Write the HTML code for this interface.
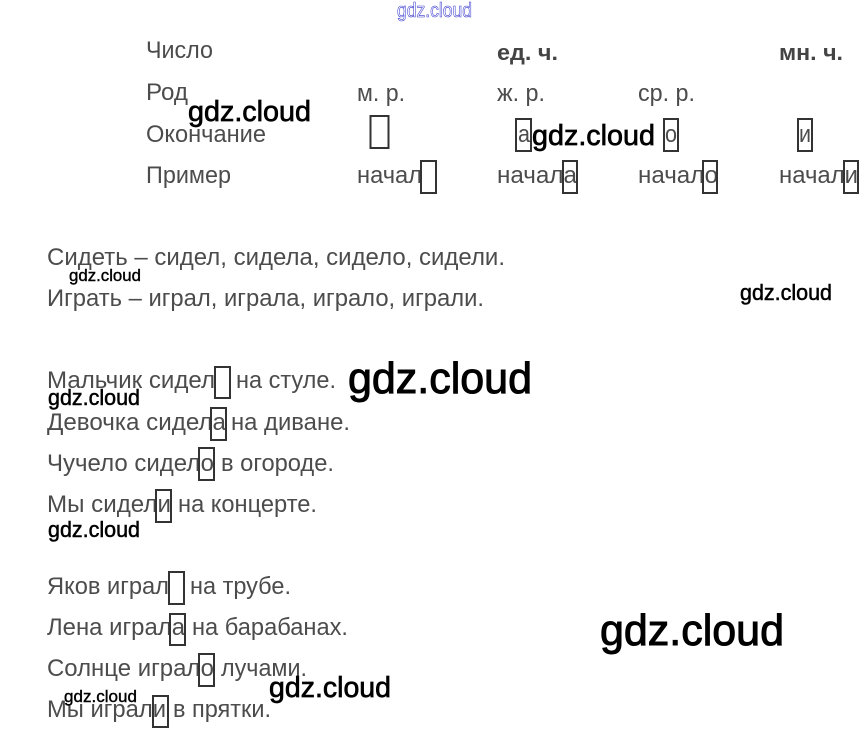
<!DOCTYPE html>
<html><head><meta charset="utf-8"><style>
html,body{margin:0;padding:0;background:#fff;width:868px;height:740px;overflow:hidden}
svg{display:block}
.t{font-family:"Liberation Sans",sans-serif;font-size:24px;fill:#4c4c4c}
.b{font-size:22px;font-weight:bold;fill:#444}
.w{font-family:"Liberation Sans",sans-serif;fill:#000;stroke:#000;stroke-width:.7}
rect{fill:none;stroke:#333;stroke-width:2}
</style></head><body>
<svg width="868" height="740" viewBox="0 0 868 740" xmlns="http://www.w3.org/2000/svg">
<text x="397" y="17" font-family="Liberation Sans,sans-serif" font-size="20" fill="#fff" stroke="#3a3ad0" stroke-width=".6" textLength="75" lengthAdjust="spacingAndGlyphs">gdz.cloud</text>

<g class="tbl">
<text class="t" x="146" y="58" textLength="67" lengthAdjust="spacingAndGlyphs">Число</text>
<text class="t b" x="497" y="60" textLength="61" lengthAdjust="spacingAndGlyphs">ед. ч.</text>
<text class="t b" x="779" y="60" textLength="64" lengthAdjust="spacingAndGlyphs">мн. ч.</text>
<text class="t" x="146" y="100" textLength="42" lengthAdjust="spacingAndGlyphs">Род</text>
<text class="t" x="357" y="101" textLength="48" lengthAdjust="spacingAndGlyphs">м. р.</text>
<text class="t" x="497" y="101" textLength="48" lengthAdjust="spacingAndGlyphs">ж. р.</text>
<text class="t" x="638" y="101" textLength="57" lengthAdjust="spacingAndGlyphs">ср. р.</text>
<text class="t" x="146" y="142" textLength="120" lengthAdjust="spacingAndGlyphs">Окончание</text>
<text class="t" x="518" y="142" textLength="12" lengthAdjust="spacingAndGlyphs">а</text>
<text class="t" x="665" y="142" textLength="12" lengthAdjust="spacingAndGlyphs">о</text>
<text class="t" x="799" y="142" textLength="12" lengthAdjust="spacingAndGlyphs">и</text>
<text class="t" x="146" y="183" textLength="85" lengthAdjust="spacingAndGlyphs">Пример</text>
<text class="t" x="357" y="183" textLength="65" lengthAdjust="spacingAndGlyphs">начал</text>
<text class="t" x="497" y="183" textLength="80" lengthAdjust="spacingAndGlyphs">начала</text>
<text class="t" x="638" y="183" textLength="80" lengthAdjust="spacingAndGlyphs">начало</text>
<text class="t" x="779" y="183" textLength="79" lengthAdjust="spacingAndGlyphs">начали</text>
</g>

<text class="t" x="47" y="265" textLength="458" lengthAdjust="spacingAndGlyphs">Сидеть – сидел, сидела, сидело, сидели.</text>
<text class="t" x="47" y="306" textLength="437" lengthAdjust="spacingAndGlyphs">Играть – играл, играла, играло, играли.</text>

<text class="t" x="47" y="388" textLength="168" lengthAdjust="spacingAndGlyphs">Мальчик сидел</text>
<text class="t" x="236" y="388" textLength="100" lengthAdjust="spacingAndGlyphs">на стуле.</text>
<text class="t" x="47" y="430" textLength="179" lengthAdjust="spacingAndGlyphs">Девочка сидела</text>
<text class="t" x="231" y="430" textLength="119" lengthAdjust="spacingAndGlyphs">на диване.</text>
<text class="t" x="47" y="471" textLength="167" lengthAdjust="spacingAndGlyphs">Чучело сидело</text>
<text class="t" x="221" y="471" textLength="113" lengthAdjust="spacingAndGlyphs">в огороде.</text>
<text class="t" x="47" y="512" textLength="124" lengthAdjust="spacingAndGlyphs">Мы сидели</text>
<text class="t" x="178" y="512" textLength="139" lengthAdjust="spacingAndGlyphs">на концерте.</text>

<text class="t" x="47" y="594" textLength="122" lengthAdjust="spacingAndGlyphs">Яков играл</text>
<text class="t" x="190" y="594" textLength="101" lengthAdjust="spacingAndGlyphs">на трубе.</text>
<text class="t" x="47" y="635" textLength="138" lengthAdjust="spacingAndGlyphs">Лена играла</text>
<text class="t" x="192" y="635" textLength="156" lengthAdjust="spacingAndGlyphs">на барабанах.</text>
<text class="t" x="47" y="676" textLength="167" lengthAdjust="spacingAndGlyphs">Солнце играло</text>
<text class="t" x="221" y="676" textLength="86" lengthAdjust="spacingAndGlyphs">лучами.</text>
<text class="t" x="47" y="717" textLength="119" lengthAdjust="spacingAndGlyphs">Мы играли</text>
<text class="t" x="173" y="717" textLength="98" lengthAdjust="spacingAndGlyphs">в прятки.</text>

<rect x="370.500" y="116" width="18" height="32"/>
<rect x="516" y="119" width="15" height="32"/>
<rect x="664" y="119" width="14" height="32"/>
<rect x="798" y="119" width="14" height="32"/>
<rect x="421" y="161" width="15" height="32"/>
<rect x="563" y="161" width="14" height="32"/>
<rect x="703" y="161" width="14" height="32"/>
<rect x="844" y="161" width="14" height="32"/>
<rect x="215" y="367" width="15" height="31"/>
<rect x="211" y="408" width="15" height="32"/>
<rect x="199" y="448" width="15" height="32"/>
<rect x="156" y="490" width="15" height="32"/>
<rect x="169" y="572" width="15" height="32"/>
<rect x="170" y="614" width="15" height="31"/>
<rect x="199" y="654" width="15" height="32"/>
<rect x="153" y="696" width="15" height="31"/>

<text class="w" x="188" y="121" font-size="29" textLength="123" lengthAdjust="spacingAndGlyphs">gdz.cloud</text>
<text class="w" x="532" y="145" font-size="29" textLength="123" lengthAdjust="spacingAndGlyphs">gdz.cloud</text>
<text class="w" x="69" y="281" font-size="17" textLength="72" lengthAdjust="spacingAndGlyphs" style="stroke-width:.4">gdz.cloud</text>
<text class="w" x="740" y="300" font-size="22" textLength="92" lengthAdjust="spacingAndGlyphs" style="stroke-width:.5">gdz.cloud</text>
<text class="w" x="348" y="393" font-size="44" textLength="184" lengthAdjust="spacingAndGlyphs" style="stroke-width:1">gdz.cloud</text>
<text class="w" x="48" y="405" font-size="22" textLength="92" lengthAdjust="spacingAndGlyphs" style="stroke-width:.5">gdz.cloud</text>
<text class="w" x="48" y="537" font-size="22" textLength="92" lengthAdjust="spacingAndGlyphs" style="stroke-width:.5">gdz.cloud</text>
<text class="w" x="600" y="645" font-size="44" textLength="184" lengthAdjust="spacingAndGlyphs" style="stroke-width:1">gdz.cloud</text>
<text class="w" x="269" y="697" font-size="29" textLength="122" lengthAdjust="spacingAndGlyphs">gdz.cloud</text>
<text class="w" x="64" y="702" font-size="17" textLength="73" lengthAdjust="spacingAndGlyphs" style="stroke-width:.4">gdz.cloud</text>
</svg>
</body></html>
